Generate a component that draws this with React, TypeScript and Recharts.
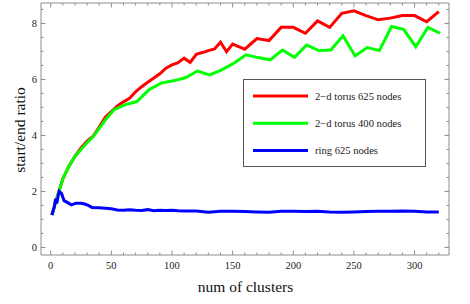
import React from 'react';
import { LineChart, Line, XAxis, YAxis, Legend } from 'recharts';

const xTicks = [0, 10, 20, 30, 40, 50, 60, 70, 80, 90, 100, 110, 120, 130, 140, 150, 160, 170, 180, 190, 200, 210, 220, 230, 240, 250, 260, 270, 280, 290, 300, 310, 320];
const yTicks = [0, 0.5, 1, 1.5, 2, 2.5, 3, 3.5, 4, 4.5, 5, 5.5, 6, 6.5, 7, 7.5, 8, 8.5];

const redX = [1, 5, 10, 15, 20, 25, 30, 35, 40, 45, 50, 55, 60, 65, 70, 75, 80, 85, 90, 95, 100, 105, 110, 115, 120, 125, 130, 135, 140, 145, 150, 155, 160, 170, 180, 190, 200, 210, 220, 230, 240, 250, 260, 270, 280, 290, 300, 310, 320];
const redY = [1.16, 1.75, 2.45, 2.9, 3.25, 3.55, 3.8, 3.97, 4.3, 4.65, 4.85, 5.05, 5.2, 5.33, 5.56, 5.74, 5.9, 6.05, 6.2, 6.4, 6.52, 6.6, 6.76, 6.61, 6.9, 6.96, 7.03, 7.09, 7.33, 6.99, 7.26, 7.17, 7.08, 7.46, 7.39, 7.86, 7.86, 7.65, 8.09, 7.86, 8.36, 8.45, 8.28, 8.13, 8.19, 8.28, 8.28, 8.06, 8.42];

const greenX = [1, 5, 10, 15, 20, 25, 30, 35, 40, 45, 52, 61, 71, 81, 91, 101, 111, 121, 131, 141, 151, 161, 171, 181, 191, 201, 211, 221, 231, 241, 251, 261, 271, 281, 291, 301, 311, 321];
const greenY = [1.16, 1.75, 2.45, 2.9, 3.25, 3.5, 3.75, 3.95, 4.25, 4.55, 4.91, 5.09, 5.21, 5.63, 5.87, 5.95, 6.06, 6.3, 6.16, 6.34, 6.58, 6.88, 6.78, 6.7, 7.05, 6.79, 7.23, 7.03, 7.05, 7.56, 6.84, 7.14, 7.03, 7.89, 7.79, 7.17, 7.86, 7.65];

const blueX = [1, 3, 4, 5, 6, 7, 9, 11, 14, 17, 21, 25, 28, 31, 34, 40, 45, 50, 55, 60, 65, 70, 75, 80, 85, 90, 95, 100, 105, 110, 120, 130, 140, 150, 160, 170, 180, 190, 200, 210, 220, 230, 240, 250, 260, 270, 280, 290, 300, 310, 320];
const blueY = [1.16, 1.46, 1.74, 1.57, 1.8, 2.0, 1.92, 1.67, 1.6, 1.52, 1.58, 1.58, 1.55, 1.5, 1.43, 1.42, 1.4, 1.38, 1.34, 1.33, 1.35, 1.33, 1.32, 1.35, 1.31, 1.33, 1.32, 1.33, 1.31, 1.3, 1.3, 1.26, 1.29, 1.29, 1.28, 1.27, 1.26, 1.29, 1.29, 1.28, 1.29, 1.27, 1.26, 1.27, 1.28, 1.29, 1.29, 1.3, 1.29, 1.27, 1.27];

const seriesNames = ['2\u2212d torus 625 nodes', '2\u2212d torus 400 nodes', 'ring 625 nodes'];
const seriesColors = ['#ff0000', '#00ff00', '#0000ff'];

const toData = (xs: number[], ys: number[]) => xs.map((x, i) => ({ x, y: ys[i] }));
const redData = toData(redX, redY);
const greenData = toData(greenX, greenY);
const blueData = toData(blueX, blueY);

const FONT = '"Liberation Serif", "Times New Roman", serif';
const AX = '#8c8c8c';

const BottomTick = (props: any) => {
  const { x, y, payload } = props;
  const v = payload.value;
  const major = v % 50 === 0;
  return (
    <g>
      <line x1={x} x2={x} y1={y} y2={y - (major ? 4.5 : 2.5)} stroke={AX} strokeWidth={1} />
      {major && (
        <text x={x} y={y + 14} textAnchor="middle" fontFamily={FONT} fontSize={10.5} fill="#222">
          {v}
        </text>
      )}
    </g>
  );
};

const TopTick = (props: any) => {
  const { x, y, payload } = props;
  const major = payload.value % 50 === 0;
  return <line x1={x} x2={x} y1={y} y2={y + (major ? 4.5 : 2.5)} stroke={AX} strokeWidth={1} />;
};

const LeftTick = (props: any) => {
  const { x, y, payload } = props;
  const v = payload.value;
  const major = Number.isInteger(v / 2);
  return (
    <g>
      <line x1={x} x2={x + (major ? 4.5 : 2.5)} y1={y} y2={y} stroke={AX} strokeWidth={1} />
      {major && (
        <text x={x - 4} y={y + 3.5} textAnchor="end" fontFamily={FONT} fontSize={10.5} fill="#222">
          {v}
        </text>
      )}
    </g>
  );
};

const RightTick = (props: any) => {
  const { x, y, payload } = props;
  const major = Number.isInteger(payload.value / 2);
  return <line x1={x} x2={x - (major ? 4.5 : 2.5)} y1={y} y2={y} stroke={AX} strokeWidth={1} />;
};

const LegendBox = (props: any) => {
  const payload = [...(props.payload || [])].sort(
    (a: any, b: any) => seriesNames.indexOf(a.value) - seriesNames.indexOf(b.value)
  );
  return (
    <svg width={183} height={88} style={{ display: 'block' }}>
      <rect x={0.5} y={0.5} width={182} height={87} fill="#fff" stroke="#555" strokeWidth={1} />
      {payload.map((entry: any, i: number) => {
        const cy = 17 + i * 27.3;
        return (
          <g key={i}>
            <line x1={10} x2={65} y1={cy} y2={cy} stroke={entry.color} strokeWidth={3} />
            <text x={72} y={cy + 3.5} fontFamily={FONT} fontSize={10.6} fill="#222">
              {entry.value}
            </text>
          </g>
        );
      })}
    </svg>
  );
};

export default function App() {
  return (
    <div style={{ position: 'absolute', left: 0, top: 0, width: 470, height: 304, background: '#fff' }}>
      <LineChart width={470} height={304} margin={{ top: 0, right: 0, bottom: 0, left: 0 }}>
        <XAxis
          dataKey="x"
          type="number"
          domain={[-8, 328.4]}
          ticks={xTicks}
          interval={0}
          allowDataOverflow
          height={49}
          tickSize={0}
          tickMargin={0}
          tickLine={false}
          axisLine={{ stroke: AX }}
          tick={BottomTick}
          label={() => (
            <text x={245.5} y={291.5} textAnchor="middle" fontFamily={FONT} fontSize={15.5} fill="#111">
              num of clusters
            </text>
          )}
        />
        <XAxis
          xAxisId="top"
          orientation="top"
          dataKey="x"
          type="number"
          domain={[-8, 328.4]}
          ticks={xTicks}
          interval={0}
          allowDataOverflow
          height={3}
          tickSize={0}
          tickMargin={0}
          tickLine={false}
          axisLine={{ stroke: AX }}
          tick={TopTick}
        />
        <YAxis
          type="number"
          domain={[-0.27, 8.73]}
          ticks={yTicks}
          interval={0}
          allowDataOverflow
          width={41}
          tickSize={0}
          tickMargin={0}
          tickLine={false}
          axisLine={{ stroke: AX }}
          tick={LeftTick}
          label={() => (
            <text
              x={25}
              y={130}
              textAnchor="middle"
              transform="rotate(-90 25 130)"
              fontFamily={FONT}
              fontSize={15.5}
              fill="#111"
            >
              start/end ratio
            </text>
          )}
        />
        <YAxis
          yAxisId="right"
          orientation="right"
          type="number"
          domain={[-0.27, 8.73]}
          ticks={yTicks}
          interval={0}
          allowDataOverflow
          width={21}
          tickSize={0}
          tickMargin={0}
          tickLine={false}
          axisLine={{ stroke: AX }}
          tick={RightTick}
        />
        <Legend
          layout="vertical"
          align="center"
          verticalAlign="middle"
          content={LegendBox}
          wrapperStyle={{ position: 'absolute', left: 243, top: 79, width: 183, height: 88 }}
        />
        <Line data={redData} dataKey="y" name={seriesNames[0]} stroke={seriesColors[0]} strokeWidth={3} dot={false} activeDot={false} isAnimationActive={false} />
        <Line data={greenData} dataKey="y" name={seriesNames[1]} stroke={seriesColors[1]} strokeWidth={3} dot={false} activeDot={false} isAnimationActive={false} />
        <Line data={blueData} dataKey="y" name={seriesNames[2]} stroke={seriesColors[2]} strokeWidth={3} dot={false} activeDot={false} isAnimationActive={false} />
      </LineChart>
    </div>
  );
}
